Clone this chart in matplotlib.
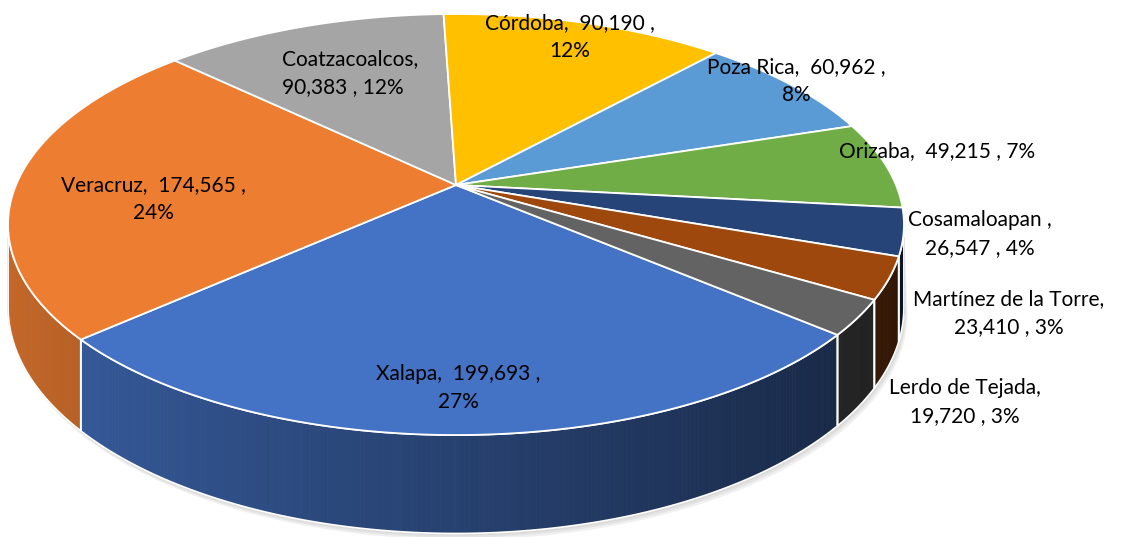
import numpy as np
import matplotlib
matplotlib.use("Agg")
from matplotlib import pyplot as plt
from matplotlib.collections import PolyCollection
from matplotlib.colors import to_rgb

names = ["Xalapa", "Veracruz", "Coatzacoalcos", "Córdoba", "Poza Rica",
         "Orizaba", "Cosamaloapan", "Martínez de la Torre", "Lerdo de Tejada"]
values = [199693, 174565, 90383, 90190, 60962, 49215, 26547, 23410, 19720]
colors = ["#4472C4", "#ED7D31", "#A5A5A5", "#FFC000", "#5B9BD5",
          "#70AD47", "#264478", "#9E480E", "#636363"]
label_fmts = ["{n},  {v} ,\n{p}", "{n},  {v} ,\n{p}", "{n},\n{v} , {p}",
              "{n},  {v} ,\n{p}", "{n},  {v} ,\n{p}", "{n},  {v} , {p}",
              "{n} ,\n{v} , {p}", "{n},\n{v} , {p}", "{n},\n{v} , {p}"]
# label anchor (pixels) and horizontal alignment
label_pos = [(458, 388), (153, 199), (282, 73), (570, 37), (796, 81),
             (937, 151), (980, 234), (1009, 313), (965, 402)]
label_ha = ["center", "center", "left", "center", "center",
            "center", "center", "center", "center"]

# pie geometry in pixel space (perspective disc)
cx, cy = 456, 185
A, B, k = 440, 203.1, 0.1877
H = 80
start = -40.4  # degrees, first slice starts here and goes clockwise


def proj(t, z=0.0):
    t = np.radians(t)
    yd = -np.sin(t)
    w = 1 - k * yd
    return cx + A * np.cos(t) / w, cy + (B * yd + H * z) / w


def shade(t):
    f = 0.57 - 0.27 * np.cos(np.radians(t))
    return max(f, 0.3)


total = sum(values)
spans = [360 * v / total for v in values]
bounds = []
a = start
for s in spans:
    bounds.append((a - s, a))
    a -= s

fig = plt.figure(figsize=(11.27, 5.37), dpi=100)
ax = fig.add_axes([0, 0, 1, 1])
ax.set_xlim(0, 1127)
ax.set_ylim(537, 0)
ax.axis("off")

# soft shadow under the pie
vis_lo, vis_hi = -180 + np.degrees(np.arcsin(k)), -np.degrees(np.arcsin(k))
ts = np.linspace(vis_lo, vis_hi, 200)
for off in [6, 4, 2]:
    bx, by = proj(ts, 1.0)
    tx, ty = proj(ts[::-1], 0.0)
    ax.fill(np.r_[bx + off * 0.6, tx], np.r_[by + off, ty],
            color="#888888", alpha=0.12, lw=0, zorder=1)

# side walls (only the visible front part)
for (lo, hi), c in zip(bounds, colors):
    for shift in (0, 360, -360):
        l, h = max(lo + shift, vis_lo), min(hi + shift, vis_hi)
        if h <= l:
            continue
        t = np.linspace(l, h, max(int(h - l) * 2, 2))
        base = np.array(to_rgb(c))
        quads, fcs = [], []
        for t0, t1 in zip(t[:-1], t[1:]):
            x0, y0 = proj(t0)
            x1, y1 = proj(t1)
            x2, y2 = proj(t1, 1.0)
            x3, y3 = proj(t0, 1.0)
            quads.append([(x0, y0), (x1, y1), (x2, y2), (x3, y3)])
            fcs.append(base * shade((t0 + t1) / 2))
        ax.add_collection(PolyCollection(quads, facecolors=fcs, edgecolors=fcs,
                                         linewidths=0.6, zorder=2))
        ox, oy = proj(t)
        bx, by = proj(t[::-1], 1.0)
        ax.fill(np.r_[ox, bx], np.r_[oy, by], fc="none", ec="white",
                lw=1.3, zorder=3)

# top face
for (lo, hi), c in zip(bounds, colors):
    t = np.linspace(lo, hi, max(int(hi - lo) * 2, 3))
    px, py = proj(t)
    ax.fill(np.r_[cx, px], np.r_[cy, py], fc=c, ec="white", lw=1.3,
            joinstyle="round", zorder=4)

for i, n in enumerate(names):
    v = values[i]
    txt = label_fmts[i].format(n=n, v=f"{v:,}", p=f"{round(100 * v / total)}%")
    ax.text(label_pos[i][0], label_pos[i][1], txt, ha=label_ha[i],
            va="center", multialignment="center" if label_ha[i] == "center" else "left",
            fontsize=15, family="Lato", color="black", linespacing=1.55, zorder=5)

fig.savefig("out.png", dpi=100)
